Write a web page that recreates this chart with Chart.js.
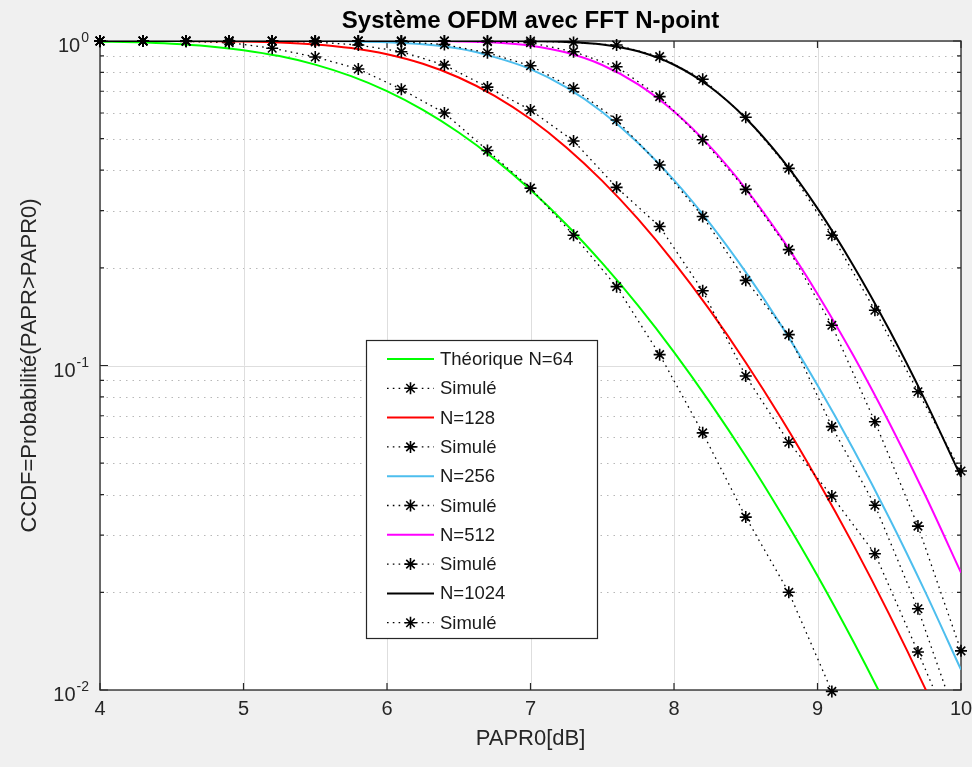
<!DOCTYPE html>
<html><head><meta charset="utf-8">
<script src="https://cdn.jsdelivr.net/npm/chart.js@4.4.1/dist/chart.umd.min.js"></script>
<style>html,body{margin:0;padding:0;background:#f0f0f0;}canvas{display:block;}</style>
</head><body>
<canvas id="c" width="972" height="767"></canvas>
<script>
// ---------- data ----------
const papr0Theory = [4,4.25,4.5,4.75,5,5.25,5.5,5.75,6,6.25,6.5,6.75,7,7.25,7.5,7.75,8,8.25,8.5,8.75,9,9.25,9.5,9.75,10];
const theoryN64   = [0.9955,0.9903,0.9806,0.9638,0.9372,0.8984,0.8457,0.7791,0.7006,0.6135,0.5225,0.4325,0.3478,0.2720,0.2067,0.1529,0.1100,0.0770,0.0525,0.0348,0.0225,0.0141,0.00858,0.00507,0.0029];
const theoryN128  = [1,0.9999,0.9996,0.9987,0.9961,0.9897,0.9762,0.9512,0.9103,0.8506,0.7720,0.6780,0.5747,0.4700,0.3707,0.2824,0.2079,0.1481,0.1022,0.0684,0.0444,0.0280,0.0171,0.01012,0.00579];
const theoryN256  = [1,1,1,1,1,0.9999,0.9994,0.9976,0.9920,0.9777,0.9480,0.8921,0.8192,0.7191,0.6040,0.4850,0.3725,0.2743,0.1940,0.1322,0.0869,0.0552,0.0339,0.0201,0.01155];
const theoryN512  = [1,1,1,1,1,1,1,1,0.9999,0.9995,0.9973,0.9892,0.9673,0.9211,0.8432,0.7348,0.6063,0.4733,0.3504,0.2469,0.1662,0.1073,0.0666,0.0399,0.0230];
const theoryN1024 = [1,1,1,1,1,1,1,1,1,1,1,0.9999,0.9989,0.9938,0.9754,0.9297,0.8450,0.7226,0.5780,0.4329,0.3049,0.2031,0.1288,0.0781,0.0454];

const papr0Sim = [4,4.3,4.6,4.9,5.2,5.5,5.8,6.1,6.4,6.7,7.0,7.3,7.6,7.9,8.2,8.5,8.8,9.1,9.4,9.7,10];
const simN64   = [1,1,0.997,0.988,0.95,0.893,0.82,0.71,0.60,0.46,0.352,0.252,0.175,0.108,0.062,0.0341,0.020,0.0099,null,null,null];
const simN128  = [1,1,1,1,1,0.993,0.972,0.927,0.843,0.721,0.613,0.492,0.354,0.268,0.170,0.0928,0.058,0.0396,0.0263,0.0131,0.0064];
const simN256  = [1,1,1,1,1,1,1,0.996,0.975,0.920,0.839,0.715,0.571,0.415,0.288,0.183,0.1245,0.0648,0.0371,0.0178,0.0074];
const simN512  = [1,1,1,1,1,1,1,1,1,0.995,0.988,0.927,0.833,0.674,0.496,0.349,0.2275,0.133,0.0671,0.0320,0.0132];
const simN1024 = [1,1,1,1,1,1,1,1,1,1,1,0.99,0.972,0.895,0.762,0.582,0.405,0.252,0.148,0.083,0.0473];

const legendLabels = ['Théorique N=64','Simulé','N=128','Simulé','N=256','Simulé','N=512','Simulé','N=1024','Simulé'];
const xTickValues = [4,5,6,7,8,9,10];
const yTickValues = [1,0.1,0.01];
const yTickExponents = ['0','-1','-2'];
const titleText = 'Système OFDM avec FFT N-point';
const xTitle = 'PAPR0[dB]';
const yTitle = 'CCDF=Probabilité(PAPR>PAPR0)';

// ---------- styles ----------
const FONT = '"Liberation Sans", Arial, Helvetica, sans-serif';
const lineColors = ['#00ff00','#ff0000','#4dbeee','#ff00ff','#000000'];
const theorySets = [theoryN64,theoryN128,theoryN256,theoryN512,theoryN1024];
const simSets = [simN64,simN128,simN256,simN512,simN1024];
const AX = '#262626';

const datasets = [];
theorySets.forEach((t,i)=>{
  datasets.push({
    data: papr0Theory.map((x,j)=>({x, y:t[j]})),
    borderColor: lineColors[i], borderWidth: 2, pointRadius: 0,
    cubicInterpolationMode: 'monotone', order: 100-3*i
  });
  const s = simSets[i];
  const pts = papr0Sim.map((x,j)=>({x, y:s[j]})).filter(p=>p.y!==null);
  datasets.push({
    data: pts, borderColor: '#000', borderWidth: 1.3, borderDash:[1.6,4.2],
    pointRadius: 0, order: 99-3*i
  });
  datasets.push({
    data: pts.filter(p=>p.y>=0.0098), showLine:false,
    pointStyle:'star', pointRadius:6, pointBorderWidth:1.6,
    pointBorderColor:'#000', pointBackgroundColor:'#000',
    clip: 10, order: 98-3*i
  });
});

function starPath(ctx, cx, cy, r){
  ctx.beginPath();
  for (let k=0;k<4;k++){
    const a = k*Math.PI/4;
    ctx.moveTo(cx+Math.cos(a)*r, cy+Math.sin(a)*r);
    ctx.lineTo(cx-Math.cos(a)*r, cy-Math.sin(a)*r);
  }
  ctx.stroke();
}

const decor = {
  id:'decor',
  beforeDraw(chart){
    const {ctx, chartArea:a, scales:{x,y}} = chart;
    ctx.save();
    ctx.fillStyle='#f0f0f0'; ctx.fillRect(0,0,chart.width,chart.height);
    ctx.fillStyle='#ffffff'; ctx.fillRect(a.left,a.top,a.right-a.left,a.bottom-a.top);
    // minor dotted grid
    ctx.strokeStyle='#b8b8b8'; ctx.lineWidth=1; ctx.setLineDash([1.5,5]);
    [0.01,0.1].forEach(d=>{ for(let m=2;m<=9;m++){
      const py=Math.round(y.getPixelForValue(d*m))+0.5;
      ctx.beginPath(); ctx.moveTo(a.left,py); ctx.lineTo(a.right,py); ctx.stroke();
    }});
    ctx.setLineDash([]);
    ctx.strokeStyle='#dedede';
    xTickValues.forEach(v=>{ const px=Math.round(x.getPixelForValue(v))+0.5;
      ctx.beginPath(); ctx.moveTo(px,a.top); ctx.lineTo(px,a.bottom); ctx.stroke(); });
    yTickValues.forEach(v=>{ const py=Math.round(y.getPixelForValue(v))+0.5;
      ctx.beginPath(); ctx.moveTo(a.left,py); ctx.lineTo(a.right,py); ctx.stroke(); });
    // box + ticks
    ctx.strokeStyle=AX; ctx.lineWidth=1.3;
    ctx.strokeRect(a.left,a.top,a.right-a.left,a.bottom-a.top);
    ctx.lineWidth=1.2;
    xTickValues.forEach(v=>{ const px=x.getPixelForValue(v);
      ctx.beginPath(); ctx.moveTo(px,a.bottom); ctx.lineTo(px,a.bottom-7);
      ctx.moveTo(px,a.top); ctx.lineTo(px,a.top+7); ctx.stroke(); });
    [0.01,0.1].forEach(d=>{ for(let m=2;m<=9;m++){
      const py=y.getPixelForValue(d*m);
      ctx.beginPath(); ctx.moveTo(a.left,py); ctx.lineTo(a.left+4,py);
      ctx.moveTo(a.right,py); ctx.lineTo(a.right-4,py); ctx.stroke();
    }});
    yTickValues.forEach(v=>{ const py=y.getPixelForValue(v);
      ctx.beginPath(); ctx.moveTo(a.left,py); ctx.lineTo(a.left+8,py);
      ctx.moveTo(a.right,py); ctx.lineTo(a.right-8,py); ctx.stroke(); });
    // tick labels
    ctx.fillStyle=AX;
    ctx.font='20px '+FONT; ctx.textAlign='center'; ctx.textBaseline='middle';
    xTickValues.forEach(v=>ctx.fillText(String(v), x.getPixelForValue(v), a.bottom+19));
    yTickValues.forEach((v,i)=>{
      const py=y.getPixelForValue(v);
      ctx.textBaseline='alphabetic'; ctx.textAlign='right';
      ctx.font='14px '+FONT;
      const ew = ctx.measureText(yTickExponents[i]).width;
      ctx.fillText(yTickExponents[i], a.left-11, py+1);
      ctx.font='20px '+FONT;
      ctx.fillText('10', a.left-11-ew-1, py+11);
    });
    // titles
    ctx.fillStyle='#000';
    ctx.font='bold 24px '+FONT; ctx.textAlign='center'; ctx.textBaseline='alphabetic';
    ctx.fillText(titleText, (a.left+a.right)/2, 28);
    ctx.fillStyle=AX;
    ctx.font='22px '+FONT; ctx.textBaseline='middle';
    ctx.fillText(xTitle, (a.left+a.right)/2, a.bottom+49);
    ctx.save(); ctx.translate(30,(a.top+a.bottom)/2); ctx.rotate(-Math.PI/2);
    ctx.fillText(yTitle,0,0); ctx.restore();
    ctx.restore();
  },
  afterDatasetsDraw(chart){
    const ctx = chart.ctx;
    ctx.save();
    const L=366, T=340, R=597, B=638;
    ctx.fillStyle='#fff'; ctx.fillRect(L,T,R-L,B-T);
    ctx.strokeStyle=AX; ctx.lineWidth=1.2; ctx.strokeRect(L+0.5,T+0.5,R-L,B-T);
    ctx.font='18.5px '+FONT; ctx.textAlign='left'; ctx.textBaseline='middle';
    legendLabels.forEach((lab,i)=>{
      const cy = T+19+i*29.3;
      const si = Math.floor(i/2);
      if (i%2===0){
        ctx.strokeStyle=lineColors[si]; ctx.lineWidth=2; ctx.setLineDash([]);
        ctx.beginPath(); ctx.moveTo(387,cy); ctx.lineTo(434,cy); ctx.stroke();
      } else {
        ctx.strokeStyle='#000'; ctx.lineWidth=1.3; ctx.setLineDash([1.6,4.2]);
        ctx.beginPath(); ctx.moveTo(387,cy); ctx.lineTo(434,cy); ctx.stroke();
        ctx.setLineDash([]); ctx.lineWidth=1.6;
        starPath(ctx,410.5,cy,6);
      }
      ctx.fillStyle='#1a1a1a';
      ctx.fillText(lab, 440, cy+1);
    });
    ctx.restore();
  }
};

new Chart(document.getElementById('c'), {
  type:'line',
  data:{ datasets },
  options:{
    responsive:false, animation:false, devicePixelRatio:1,
    layout:{ padding:{ left:100, top:41, right:11, bottom:77 } },
    scales:{
      x:{ type:'linear', min:4, max:10, display:false },
      y:{ type:'logarithmic', min:0.01, max:1, display:false }
    },
    plugins:{ legend:{display:false}, tooltip:{enabled:false}, title:{display:false} }
  },
  plugins:[decor]
});
</script>
</body></html>
